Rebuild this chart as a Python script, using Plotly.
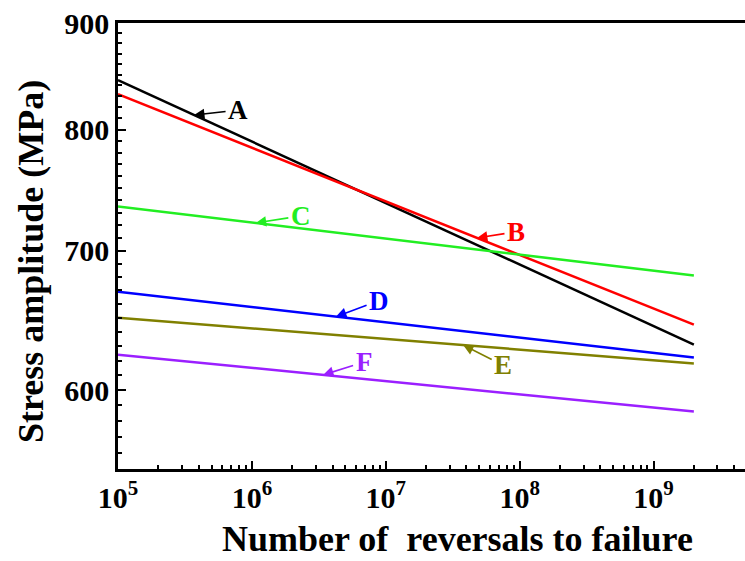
import numpy as np
import plotly.graph_objects as go

# Stress–life (Basquin) lines: endpoints at 1e5 and 2e9 reversals
reversals = [1e5, 2e9]
series_names = ["A", "B", "C", "D", "E", "F"]
stress_A = [845, 631]
stress_B = [832, 645]
stress_C = [735, 681]
stress_D = [669, 622]
stress_E = [650, 618]
stress_F = [624, 586]
series_values = [stress_A, stress_B, stress_C, stress_D, stress_E, stress_F]
colors = ["#000000", "#FF0000", "#22EE22", "#0000FF", "#808000", "#9B1FFF"]

# Where each label's arrow touches its line (reversals), and label offset in px
label_at = [3.7e5, 4.8e7, 1.07e6, 4.25e6, 3.78e7, 3.4e6]
label_offset = [(44, -5), (39, -6), (45, -7), (43, -16), (40, 20), (41, -13)]

x_ticks = [1e5, 1e6, 1e7, 1e8, 1e9]
x_ticktext = ["<b>10<sup>%d</sup></b>" % e for e in range(5, 10)]
y_ticks = [600, 700, 800, 900]

x_title = "Number of  reversals to failure"
y_title = "Stress amplitude (MPa)"

font_family = "Liberation Serif"

fig = go.Figure()
for name, vals, col in zip(series_names, series_values, colors):
    fig.add_trace(go.Scatter(x=reversals, y=vals, mode="lines", name=name,
                             line=dict(color=col, width=2.5), showlegend=False))


def on_line(x, vals):
    # straight line in log-log space
    lx = np.log10(reversals)
    ly = np.log10(vals)
    return 10 ** np.interp(np.log10(x), lx, ly)


for name, vals, col, xa, (ax, ay) in zip(series_names, series_values, colors,
                                         label_at, label_offset):
    fig.add_annotation(
        x=np.log10(xa), y=np.log10(on_line(xa, vals)), xref="x", yref="y",
        text="<b>%s</b>" % name, showarrow=True, ax=ax, ay=ay,
        axref="pixel", ayref="pixel",
        arrowhead=2, arrowsize=1.3, arrowwidth=1.6, arrowcolor=col,
        standoff=0, startstandoff=1,
        font=dict(family=font_family, size=27, color=col),
    )

# Axis titles placed as paper annotations
fig.add_annotation(
    text="<b>%s</b>" % x_title, xref="paper", yref="paper",
    x=0.5407, y=0, yshift=-70, xanchor="center", yanchor="middle",
    showarrow=False, font=dict(family=font_family, size=36, color="black"),
)
fig.add_annotation(
    text="<b>%s</b>" % y_title, xref="paper", yref="paper",
    x=0, xshift=-87, y=0.464, xanchor="center", yanchor="middle",
    textangle=-90, showarrow=False,
    font=dict(family=font_family, size=36, color="black"),
)

x_minor = [m * 10 ** d for d in range(5, 10) for m in range(2, 10)]
y_minor = list(range(550, 901, 10))

fig.update_layout(
    width=745, height=561,
    margin=dict(l=118, r=0, t=23, b=92),
    paper_bgcolor="white", plot_bgcolor="white",
    font=dict(family=font_family, color="black"),
    xaxis=dict(
        type="log", range=[5, 9.683],
        tickvals=x_ticks, ticktext=x_ticktext,
        ticks="inside", ticklen=8, tickwidth=2, tickcolor="black",
        minor=dict(tickvals=x_minor, ticks="inside", ticklen=4, tickwidth=1.5,
                   tickcolor="black"),
        showline=True, linewidth=2.5, linecolor="black", mirror=True,
        showgrid=False, zeroline=False,
        tickfont=dict(family=font_family, size=30, color="black"),
    ),
    yaxis=dict(
        type="log", range=[np.log10(550), np.log10(900)],
        tickvals=y_ticks, ticktext=["<b>%d</b>" % v for v in y_ticks],
        ticks="inside", ticklen=8, tickwidth=2, tickcolor="black",
        minor=dict(tickvals=y_minor, ticks="inside", ticklen=4, tickwidth=1.5,
                   tickcolor="black"),
        showline=True, linewidth=2.5, linecolor="black", mirror=False,
        showgrid=False, zeroline=False,
        tickfont=dict(family=font_family, size=30, color="black"),
    ),
)

fig.write_html("out.html")
